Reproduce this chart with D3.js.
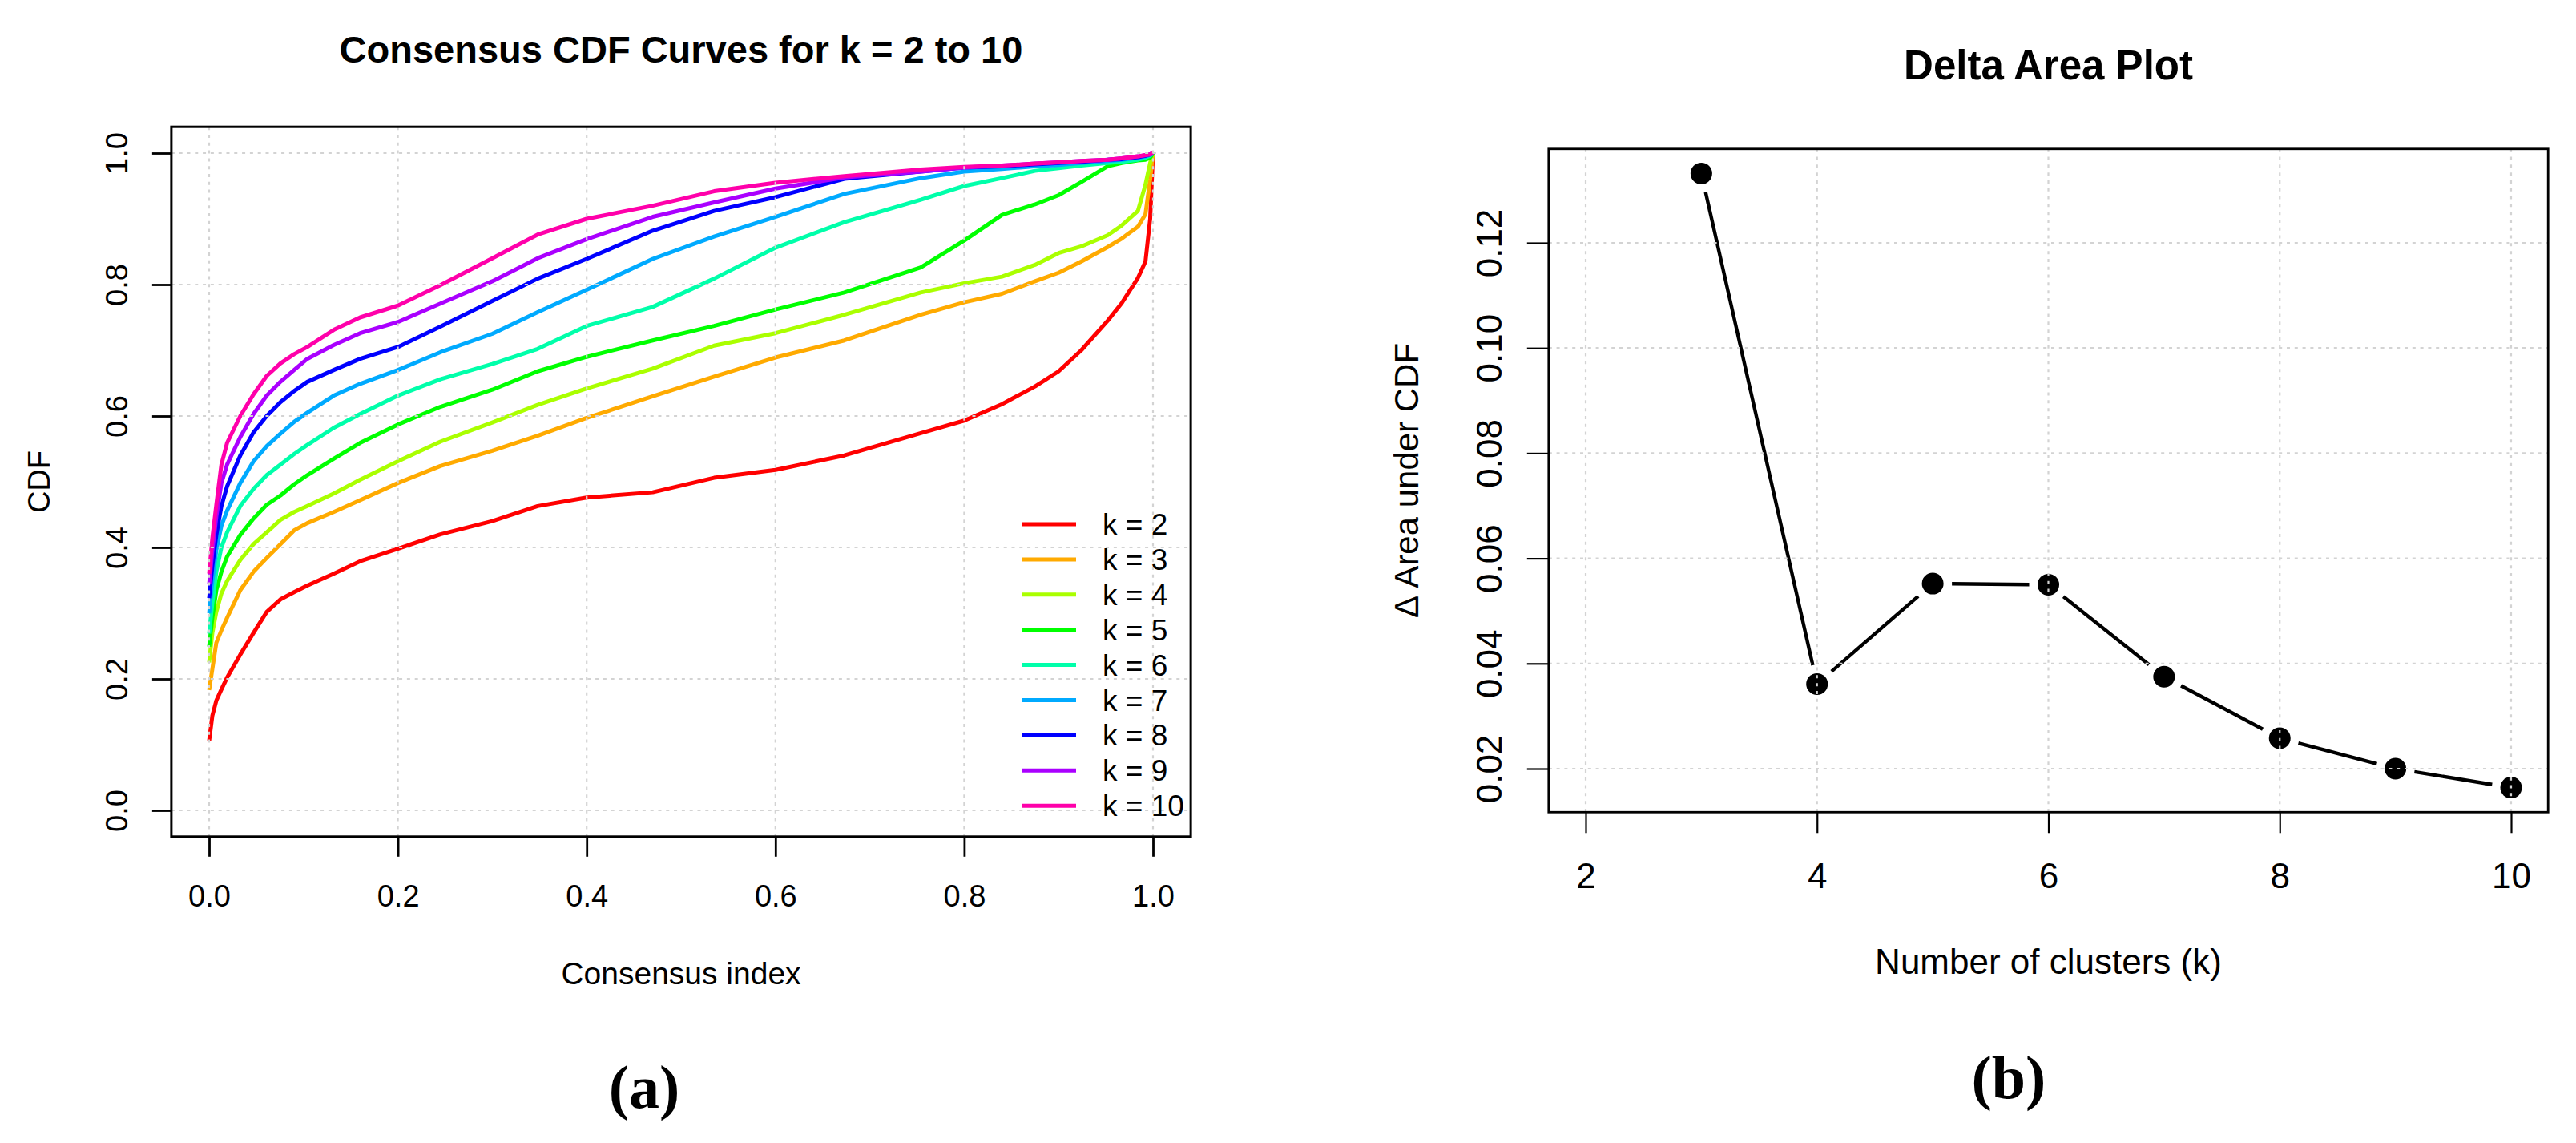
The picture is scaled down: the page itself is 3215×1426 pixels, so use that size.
<!DOCTYPE html>
<html>
<head>
<meta charset="utf-8">
<script src="https://cdn.jsdelivr.net/npm/d3@7"></script>
<style>
  body { margin: 0; background: #fff; }
  svg { display: block; background: #fff; }
</style>
</head>
<body>
<svg id="fig" width="3215" height="1426"></svg>
<script>

// ---- data: consensus CDF curves (panel a) ----
const cdfX = [0, 0.0034, 0.0076, 0.013, 0.019, 0.033, 0.047, 0.061, 0.0755, 0.09, 0.104, 0.132, 0.16, 0.2, 0.245, 0.3, 0.348, 0.4, 0.47, 0.535, 0.6, 0.673, 0.754, 0.8, 0.84, 0.875, 0.9, 0.924, 0.952, 0.967, 0.984, 0.992, 0.997, 1.0];
const cdfK2 = [0.106,0.144,0.167,0.184,0.202,0.237,0.27,0.302,0.321,0.332,0.342,0.36,0.379,0.398,0.42,0.44,0.463,0.476,0.484,0.506,0.518,0.54,0.574,0.593,0.618,0.645,0.668,0.70,0.745,0.772,0.81,0.835,0.9,1.0];
const cdfK3 = [0.183,0.215,0.255,0.274,0.293,0.335,0.363,0.384,0.405,0.426,0.437,0.454,0.472,0.498,0.524,0.547,0.57,0.597,0.63,0.66,0.689,0.715,0.754,0.773,0.786,0.805,0.818,0.835,0.857,0.87,0.888,0.907,0.96,1.0];
const cdfK4 = [0.225,0.27,0.302,0.33,0.349,0.381,0.405,0.423,0.442,0.454,0.463,0.482,0.503,0.531,0.561,0.59,0.617,0.642,0.672,0.707,0.726,0.754,0.788,0.802,0.812,0.83,0.848,0.858,0.875,0.89,0.912,0.952,0.985,1.0];
const cdfK5 = [0.249,0.293,0.335,0.363,0.386,0.419,0.444,0.465,0.479,0.496,0.51,0.535,0.559,0.587,0.614,0.64,0.668,0.69,0.715,0.737,0.762,0.788,0.826,0.867,0.906,0.922,0.936,0.956,0.98,0.985,0.989,0.99,0.993,1.0];
const cdfK6 = [0.269,0.316,0.363,0.40,0.423,0.463,0.489,0.51,0.526,0.542,0.556,0.582,0.603,0.631,0.656,0.679,0.702,0.737,0.766,0.809,0.856,0.895,0.929,0.95,0.962,0.973,0.977,0.981,0.985,0.987,0.99,0.993,0.996,1.0];
const cdfK7 = [0.30,0.349,0.396,0.433,0.456,0.498,0.531,0.554,0.573,0.591,0.605,0.631,0.649,0.67,0.697,0.725,0.758,0.792,0.839,0.873,0.903,0.938,0.962,0.972,0.976,0.98,0.982,0.985,0.988,0.99,0.993,0.995,0.997,1.0];
const cdfK8 = [0.323,0.372,0.419,0.463,0.493,0.54,0.575,0.60,0.621,0.638,0.652,0.67,0.687,0.705,0.736,0.775,0.809,0.839,0.882,0.912,0.933,0.961,0.972,0.978,0.98,0.983,0.985,0.987,0.99,0.991,0.994,0.996,0.998,1.0];
const cdfK9 = [0.344,0.395,0.447,0.498,0.526,0.568,0.603,0.631,0.652,0.67,0.687,0.708,0.726,0.743,0.771,0.805,0.84,0.869,0.903,0.925,0.946,0.963,0.972,0.978,0.981,0.984,0.986,0.988,0.99,0.992,0.995,0.997,0.998,1.0];
const cdfK10 = [0.36,0.414,0.465,0.526,0.559,0.60,0.633,0.661,0.68,0.694,0.705,0.731,0.75,0.768,0.799,0.84,0.876,0.9,0.92,0.942,0.955,0.965,0.975,0.979,0.981,0.984,0.986,0.988,0.99,0.992,0.995,0.997,0.998,1.0];
const cdfSeries = [cdfK2, cdfK3, cdfK4, cdfK5, cdfK6, cdfK7, cdfK8, cdfK9, cdfK10];
const kLabels = ["k = 2", "k = 3", "k = 4", "k = 5", "k = 6", "k = 7", "k = 8", "k = 9", "k = 10"];
const kColors = ["#FF0000", "#FFAA00", "#AAFF00", "#00FF00", "#00FFAA", "#00AAFF", "#0000FF", "#AA00FF", "#FF00AA"];
const cdfTicks = [0, 0.2, 0.4, 0.6, 0.8, 1.0];

// ---- data: delta area (panel b) ----
const deltaK = [3, 4, 5, 6, 7, 8, 9, 10];
const deltaArea = [0.1332, 0.0361, 0.0552, 0.0550, 0.0375, 0.0258, 0.0200, 0.0164];
const deltaXTicks = [2, 4, 6, 8, 10];
const deltaYTicks = [0.02, 0.04, 0.06, 0.08, 0.10, 0.12];

const sans = '"Liberation Sans", Arial, sans-serif';
const serif = '"Liberation Serif", "Times New Roman", serif';
const svg = d3.select("#fig");

// ================= panel (a) =================
const xA = d3.scaleLinear().domain([0, 1]).range([261, 1439]);
const yA = d3.scaleLinear().domain([0, 1]).range([1011, 191]);
const boxA = {x0: xA(-0.04), x1: xA(1.04), y0: yA(1.04), y1: yA(-0.04)};

let gA = svg.append("g");

// curves
let line = d3.line().x((d, i) => xA(cdfX[i])).y(d => yA(d));
gA.selectAll("path.cdf")
  .data(cdfSeries)
  .enter().append("path")
  .attr("class", "cdf")
  .attr("d", d => line(d))
  .attr("fill", "none")
  .attr("stroke", (d, i) => kColors[i])
  .attr("stroke-width", 5)
  .attr("stroke-linejoin", "round");

// grid (drawn over the curves, like R's grid())
gA.selectAll("line.gx").data(cdfTicks).enter().append("line")
  .attr("x1", d => xA(d)).attr("x2", d => xA(d))
  .attr("y1", boxA.y0).attr("y2", boxA.y1)
  .attr("stroke", "#d3d3d3").attr("stroke-width", 2.2).attr("stroke-dasharray", "4 5.8");
gA.selectAll("line.gy").data(cdfTicks).enter().append("line")
  .attr("y1", d => yA(d)).attr("y2", d => yA(d))
  .attr("x1", boxA.x0).attr("x2", boxA.x1)
  .attr("stroke", "#d3d3d3").attr("stroke-width", 2.2).attr("stroke-dasharray", "4 5.8");

// axes
let xAxisA = d3.axisBottom(xA).tickValues(cdfTicks).tickFormat(d3.format(".1f")).tickSize(25).tickSizeOuter(0);
let gxA = gA.append("g").attr("transform", `translate(0,${boxA.y1})`).call(xAxisA);
gxA.selectAll("text").attr("y", 87).attr("dy", 0)
  .attr("font-family", sans).attr("font-size", 38).attr("fill", "#000");

let yAxisA = d3.axisLeft(yA).tickValues(cdfTicks).tickFormat(d3.format(".1f")).tickSize(24).tickSizeOuter(0);
let gyA = gA.append("g").attr("transform", `translate(${boxA.x0},0)`).call(yAxisA);
gyA.selectAll("text").attr("x", 0).attr("y", -55).attr("dy", 0)
  .attr("text-anchor", "middle").attr("transform", "rotate(-90)")
  .attr("font-family", sans).attr("font-size", 38).attr("fill", "#000");

[gxA, gyA].forEach(g => {
  g.selectAll(".tick line").attr("stroke", "#000").attr("stroke-width", 2.8);
  g.select(".domain").remove();
});

// box
gA.append("rect")
  .attr("x", boxA.x0).attr("y", boxA.y0)
  .attr("width", boxA.x1 - boxA.x0).attr("height", boxA.y1 - boxA.y0)
  .attr("fill", "none").attr("stroke", "#000").attr("stroke-width", 3);

// legend
let legA = gA.append("g");
let legRow = legA.selectAll("g").data(kLabels).enter().append("g")
  .attr("transform", (d, i) => `translate(1275,${654 + i * 43.9})`);
legRow.append("line").attr("x1", 0).attr("x2", 68).attr("y1", 0).attr("y2", 0)
  .attr("stroke", (d, i) => kColors[i]).attr("stroke-width", 5);
legRow.append("text").attr("x", 101).attr("y", 13).text(d => d)
  .attr("font-family", sans).attr("font-size", 37).attr("fill", "#000");

// titles
gA.append("text").attr("x", (boxA.x0 + boxA.x1) / 2).attr("y", 78)
  .attr("text-anchor", "middle").attr("font-family", sans).attr("font-weight", "bold")
  .attr("font-size", 47).text("Consensus CDF Curves for k = 2 to 10");
gA.append("text").attr("x", (boxA.x0 + boxA.x1) / 2).attr("y", 1228)
  .attr("text-anchor", "middle").attr("font-family", sans).attr("font-size", 39)
  .text("Consensus index");
gA.append("text").attr("transform", `translate(62,${(boxA.y0 + boxA.y1) / 2}) rotate(-90)`)
  .attr("text-anchor", "middle").attr("font-family", sans).attr("font-size", 38)
  .text("CDF");
gA.append("text").attr("x", 804).attr("y", 1382)
  .attr("text-anchor", "middle").attr("font-family", serif).attr("font-weight", "bold")
  .attr("font-size", 76).text("(a)");

// ================= panel (b) =================
const xB = d3.scaleLinear().domain([2, 10]).range([1979, 3134]);
const yB = d3.scaleLinear().domain([0.02, 0.12]).range([959, 303]);
const [dMin, dMax] = d3.extent(deltaArea);
const pad = (dMax - dMin) * 0.04;
const boxB = {x0: xB(1.68), x1: xB(10.32), y0: yB(dMax + pad), y1: yB(dMin - pad)};

let gB = svg.append("g");

// type="b": segments with gaps around the points
let gap = 24;
let segs = d3.pairs(deltaK.map((k, i) => [xB(k), yB(deltaArea[i])]));
gB.selectAll("line.seg").data(segs).enter().append("line")
  .each(function (d) {
    let [p, q] = d;
    let dx = q[0] - p[0], dy = q[1] - p[1];
    let len = Math.sqrt(dx * dx + dy * dy);
    let ux = dx / len, uy = dy / len;
    d3.select(this)
      .attr("x1", p[0] + ux * gap).attr("y1", p[1] + uy * gap)
      .attr("x2", q[0] - ux * gap).attr("y2", q[1] - uy * gap);
  })
  .attr("stroke", "#000").attr("stroke-width", 4.4);

gB.selectAll("circle").data(deltaArea).enter().append("circle")
  .attr("cx", (d, i) => xB(deltaK[i])).attr("cy", d => yB(d))
  .attr("r", 13.5).attr("fill", "#000");

// grid on top
gB.selectAll("line.gx").data(deltaXTicks).enter().append("line")
  .attr("x1", d => xB(d)).attr("x2", d => xB(d))
  .attr("y1", boxB.y0).attr("y2", boxB.y1)
  .attr("stroke", "#d3d3d3").attr("stroke-width", 2.2).attr("stroke-dasharray", "4 5.8");
gB.selectAll("line.gy").data(deltaYTicks).enter().append("line")
  .attr("y1", d => yB(d)).attr("y2", d => yB(d))
  .attr("x1", boxB.x0).attr("x2", boxB.x1)
  .attr("stroke", "#d3d3d3").attr("stroke-width", 2.2).attr("stroke-dasharray", "4 5.8");

let xAxisB = d3.axisBottom(xB).tickValues(deltaXTicks).tickFormat(d3.format("d")).tickSize(26).tickSizeOuter(0);
let gxB = gB.append("g").attr("transform", `translate(0,${boxB.y1})`).call(xAxisB);
gxB.selectAll("text").attr("y", 95).attr("dy", 0)
  .attr("font-family", sans).attr("font-size", 44).attr("fill", "#000");

let yAxisB = d3.axisLeft(yB).tickValues(deltaYTicks).tickFormat(d3.format(".2f")).tickSize(27).tickSizeOuter(0);
let gyB = gB.append("g").attr("transform", `translate(${boxB.x0},0)`).call(yAxisB);
gyB.selectAll("text").attr("x", 0).attr("y", -59).attr("dy", 0)
  .attr("text-anchor", "middle").attr("transform", "rotate(-90)")
  .attr("font-family", sans).attr("font-size", 44).attr("fill", "#000");

[gxB, gyB].forEach(g => {
  g.selectAll(".tick line").attr("stroke", "#000").attr("stroke-width", 2.2);
  g.select(".domain").remove();
});

gB.append("rect")
  .attr("x", boxB.x0).attr("y", boxB.y0)
  .attr("width", boxB.x1 - boxB.x0).attr("height", boxB.y1 - boxB.y0)
  .attr("fill", "none").attr("stroke", "#000").attr("stroke-width", 2.8);

gB.append("text").attr("x", (boxB.x0 + boxB.x1) / 2).attr("y", 99)
  .attr("text-anchor", "middle").attr("font-family", sans).attr("font-weight", "bold")
  .attr("font-size", 51).text("Delta Area Plot");
gB.append("text").attr("x", (boxB.x0 + boxB.x1) / 2).attr("y", 1215)
  .attr("text-anchor", "middle").attr("font-family", sans).attr("font-size", 44)
  .text("Number of clusters (k)");
gB.append("text").attr("transform", `translate(1770,${(boxB.y0 + boxB.y1) / 2}) rotate(-90)`)
  .attr("text-anchor", "middle").attr("font-family", sans).attr("font-size", 42)
  .text("\u0394 Area under CDF");
gB.append("text").attr("x", 2507).attr("y", 1370)
  .attr("text-anchor", "middle").attr("font-family", serif).attr("font-weight", "bold")
  .attr("font-size", 76).text("(b)");

</script>
</body>
</html>
